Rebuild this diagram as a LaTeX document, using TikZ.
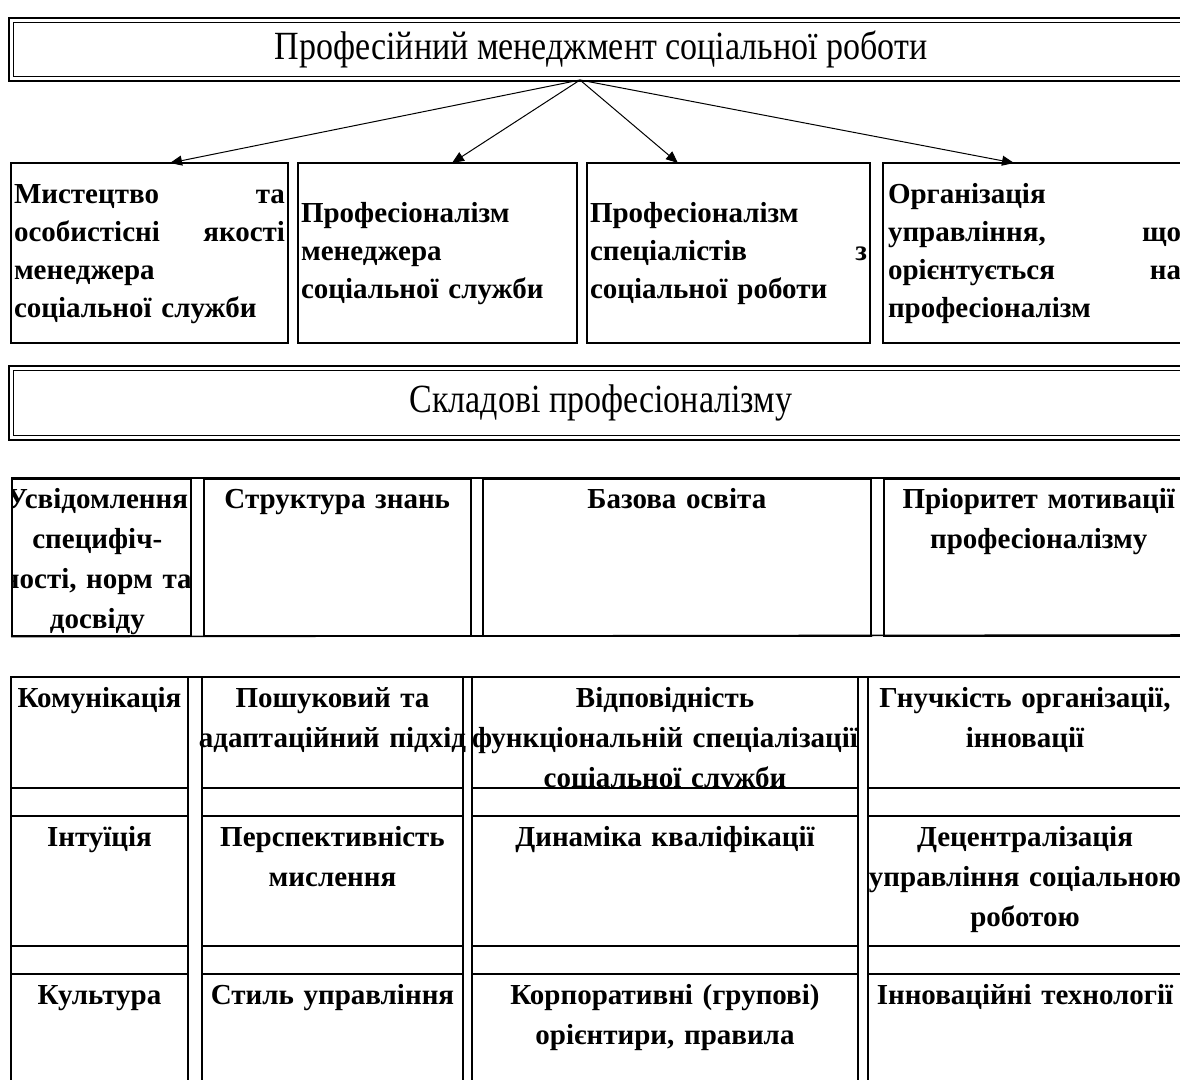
\documentclass[tikz,border=0pt]{standalone}
\usepackage{fontspec}
\setmainfont{Liberation Serif}
\newfontfamily\titlefont[FakeStretch=0.85]{Liberation Serif}
\usetikzlibrary{arrows.meta}
\begin{document}
\begin{tikzpicture}[x=1pt,y=-1pt,
  box/.style={draw, line width=1.5pt, inner xsep=3pt, inner ysep=0pt},
  dbl/.style={draw, double, line width=1.5pt, double distance=3pt, inner sep=0pt,
              font=\titlefont\fontsize{40}{48}\selectfont},
  rowtext/.style={font=\bfseries\fontsize{29}{38}\selectfont, align=left},
  tab/.style={line width=1.6pt},
  cell/.style={draw, line width=1.6pt, inner sep=0pt},
  tabtext/.style={font=\bfseries\fontsize{29}{40}\selectfont, align=center, inner sep=0pt, anchor=north},
  arr/.style={line width=1pt, -{Triangle[length=12pt,width=10pt]}},
]
\useasboundingbox (0,0) rectangle (1180,1079);
\clip (0,0) rectangle (1180,1079);
\fill[white] (0,0) rectangle (1180,1079);

% titles
\node[dbl, minimum width=1180pt, minimum height=58.5pt, anchor=north west] (title) at (10.25,19.25)
  {Професійний менеджмент соціальної роботи};
\node[dbl, minimum width=1180pt, minimum height=69.5pt, anchor=north west] (sub) at (10.25,367.25)
  {Складові професіоналізму};

% row 1 boxes
\node[box, rowtext, minimum width=277pt, minimum height=180pt, text width=271pt] (b1) at (149.5,253)
  {\strut Мистецтво\hfill та\\особистісні\hfill якості\\менеджера\\соціальної служби\strut};
\node[box, rowtext, minimum width=279pt, minimum height=180pt, text width=273pt] (b2) at (437.5,253)
  {\strut Професіоналізм\\менеджера\\соціальної служби\strut};
\node[box, rowtext, minimum width=283pt, minimum height=180pt, text width=277pt] (b3) at (728.5,253)
  {\strut Професіоналізм\\спеціалістів\hfill з\\соціальної роботи\strut};
\node[box, rowtext, minimum width=303pt, minimum height=180pt, text width=293pt] (b4) at (1034.5,253)
  {\strut Організація\\управління,\hfill що\\орієнтується\hfill на\\професіоналізм\strut};

% arrows
\coordinate (hub) at (580,80);
\coordinate (t1) at (170,163);
\coordinate (t2) at (452,163);
\coordinate (t3) at (678,163);
\coordinate (t4) at (1014,163);
\draw[arr] (hub) -- (t1);
\draw[arr] (hub) -- (t2);
\draw[arr] (hub) -- (t3);
\draw[arr] (hub) -- (t4);

% row 3 (components)
\node[cell, minimum width=179pt, minimum height=157pt, anchor=north west] (c1) at (11,478) {};
\node[cell, minimum width=267pt, minimum height=157pt, anchor=north west] (c2) at (203,478) {};
\node[cell, minimum width=388pt, minimum height=157pt, anchor=north west] (c3) at (482,478) {};
\node[cell, minimum width=310pt, minimum height=157pt, anchor=north west] (c4) at (883,478) {};
\draw[tab] (c1.north west) -- (1200,478);
\draw[tab] (c1.south west) -- (1200,635);
\begin{scope}
  \clip (c1.north west) rectangle (c1.south east);
  \node[tabtext, text width=240pt] (u1) at ([xshift=-4pt,yshift=-2pt]c1.north)
    {\strut Усвідомлення\\специфіч-\\ності, норм та\\досвіду\strut};
\end{scope}
\node[tabtext, text width=260pt] (u2) at ([yshift=-2pt]c2.north) {\strut Структура знань\strut};
\node[tabtext, text width=380pt] (u3) at ([yshift=-2pt]c3.north) {\strut Базова освіта\strut};
\node[tabtext, text width=310pt] (u4) at ([yshift=-2pt]c4.north) {\strut Пріоритет мотивації\\професіоналізму\strut};

% bottom table
\foreach \l/\r in {11/188, 202/463, 472/858, 868/1188} {
  \draw[tab] (\l,677) rectangle (\r,788);
  \draw[tab] (\l,788) rectangle (\r,816);
  \draw[tab] (\l,816) rectangle (\r,946);
  \draw[tab] (\l,946) rectangle (\r,974);
  \draw[tab] (\l,974) rectangle (\r,1110);
}
\draw[tab] (11,677) -- (1200,677);
\coordinate (k1) at (99.5,679);
\coordinate (k2) at (332.5,679);
\coordinate (k3) at (665,679);
\coordinate (k4) at (1025,679);

\node[tabtext, text width=240pt] (a1) at (k1) {\strut Комунікація\strut};
\node[tabtext, text width=300pt] (a2) at (k2) {\strut Пошуковий та\\адаптаційний підхід\strut};
\begin{scope}
  \clip (472,677) rectangle (858,787);
  \node[tabtext, text width=400pt] (a3) at (k3) {\strut Відповідність\\функціональній спеціалізації\\соціальної служби\strut};
\end{scope}
\node[tabtext, text width=330pt] (a4) at (k4) {\strut Гнучкість організації,\\інновації\strut};

\node[tabtext, text width=240pt] (r1) at ([yshift=-139pt]k1) {\strut Інтуїція\strut};
\node[tabtext, text width=300pt] (r2) at ([yshift=-139pt]k2) {\strut Перспективність\\мислення\strut};
\node[tabtext, text width=400pt] (r3) at ([yshift=-139pt]k3) {\strut Динаміка кваліфікації\strut};
\node[tabtext, text width=330pt] (r4) at ([yshift=-139pt]k4) {\strut Децентралізація\\управління соціальною\\роботою\strut};

\node[tabtext, text width=240pt] (s1) at ([yshift=-297pt]k1) {\strut Культура\strut};
\node[tabtext, text width=300pt] (s2) at ([yshift=-297pt]k2) {\strut Стиль управління\strut};
\node[tabtext, text width=400pt] (s3) at ([yshift=-297pt]k3) {\strut Корпоративні (групові)\\орієнтири, правила\strut};
\node[tabtext, text width=330pt] (s4) at ([yshift=-297pt]k4) {\strut Інноваційні технології\strut};
\end{tikzpicture}
\end{document}
